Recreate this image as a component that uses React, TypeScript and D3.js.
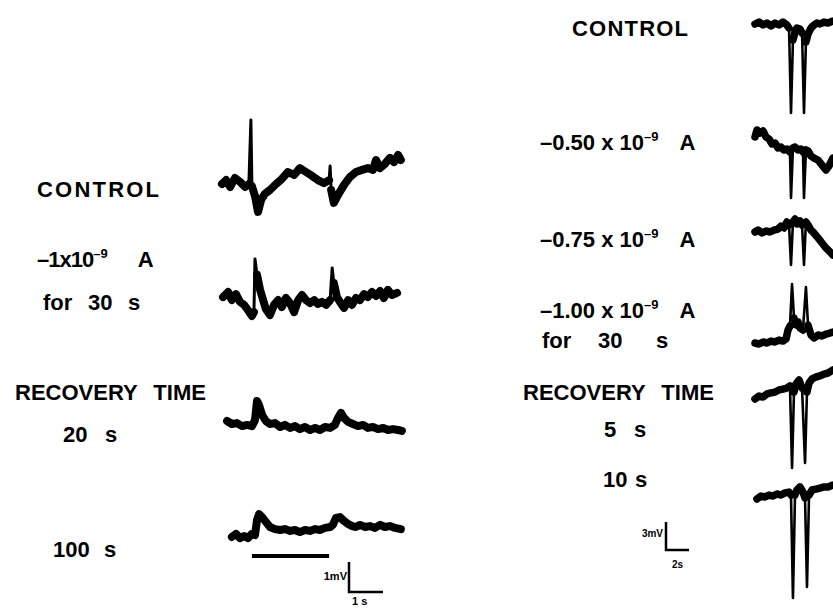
import * as d3 from "d3";

type Pt = [number, number, number?]; // [time (s), potential (mV), spike tip flag]

// Left experiment: 1 s / 1 mV calibration
const leftControl: Pt[] = [
  [0.0, 0.0], [0.12, 0.13], [0.24, -0.1], [0.38, 0.2], [0.53, 0.07], [0.68, -0.1],
  [0.79, 0.0], [0.85, 2.13, 1], [0.88, -0.07], [0.97, -0.4], [1.06, -0.93], [1.15, -0.53],
  [1.26, -0.33], [1.41, -0.2], [1.59, 0.0], [1.76, 0.17], [1.94, 0.4], [2.12, 0.3],
  [2.29, 0.53], [2.47, 0.4], [2.65, 0.27], [2.82, 0.13], [3.0, 0.03], [3.15, 0.13],
  [3.18, 0.6, 1], [3.21, -0.2], [3.29, -0.63], [3.41, -0.37], [3.59, -0.03], [3.76, 0.23],
  [3.94, 0.4], [4.12, 0.47], [4.29, 0.53], [4.44, 0.47], [4.53, 0.8], [4.65, 0.53],
  [4.79, 0.67], [4.94, 0.87], [5.06, 0.73], [5.18, 0.97], [5.26, 0.8],
];
const leftCurrent: Pt[] = [
  [0.03, 0.03], [0.18, 0.2], [0.29, -0.07], [0.41, 0.13], [0.53, -0.13], [0.65, -0.23],
  [0.76, -0.4], [0.88, -0.6], [0.94, -0.47], [0.97, 1.3, 1], [1.03, 0.77], [1.12, 0.27],
  [1.21, -0.07], [1.29, -0.37], [1.41, -0.57], [1.53, -0.23], [1.65, -0.07], [1.76, -0.3],
  [1.88, 0.0], [2.0, -0.17], [2.12, -0.47], [2.24, -0.07], [2.35, 0.1], [2.47, -0.07],
  [2.59, -0.17], [2.71, -0.07], [2.82, -0.2], [2.94, -0.13], [3.06, -0.23], [3.18, -0.07],
  [3.24, 1.0, 1], [3.29, 0.5], [3.38, 0.03], [3.47, -0.13], [3.59, -0.33], [3.71, -0.07],
  [3.82, -0.23], [3.94, 0.0], [4.06, -0.07], [4.18, 0.13], [4.29, 0.03], [4.41, 0.2],
  [4.53, 0.07], [4.65, 0.23], [4.76, 0.0], [4.88, 0.27], [5.0, 0.1], [5.15, 0.17],
];
const leftRecovery20: Pt[] = [
  [0.15, 0.1], [0.29, 0.0], [0.44, 0.03], [0.59, -0.07], [0.74, -0.03], [0.88, -0.07],
  [0.97, 0.13], [1.03, 0.77], [1.09, 0.63], [1.18, 0.3], [1.29, 0.1], [1.41, 0.0],
  [1.56, 0.03], [1.71, -0.1], [1.85, -0.03], [2.0, -0.13], [2.15, -0.07], [2.29, -0.17],
  [2.44, -0.1], [2.59, -0.2], [2.74, -0.13], [2.88, -0.2], [3.03, -0.1], [3.18, -0.13],
  [3.32, -0.03], [3.41, 0.2], [3.5, 0.37], [3.59, 0.2], [3.71, 0.07], [3.85, 0.0],
  [4.0, -0.07], [4.15, -0.03], [4.29, -0.13], [4.44, -0.1], [4.59, -0.17], [4.74, -0.13],
  [4.88, -0.2], [5.03, -0.17], [5.18, -0.2], [5.29, -0.23],
];
const leftRecovery100: Pt[] = [
  [0.29, -0.03], [0.41, 0.07], [0.53, -0.07], [0.65, 0.0], [0.76, -0.07], [0.88, 0.07],
  [0.97, 0.03], [1.03, 0.53], [1.09, 0.73], [1.18, 0.63], [1.29, 0.47], [1.41, 0.3],
  [1.56, 0.23], [1.71, 0.2], [1.85, 0.23], [2.0, 0.17], [2.15, 0.2], [2.29, 0.13],
  [2.44, 0.2], [2.59, 0.17], [2.74, 0.23], [2.88, 0.2], [3.03, 0.27], [3.18, 0.3],
  [3.26, 0.37], [3.35, 0.6], [3.47, 0.63], [3.59, 0.5], [3.71, 0.4], [3.82, 0.33],
  [3.94, 0.3], [4.06, 0.37], [4.21, 0.3], [4.35, 0.33], [4.5, 0.27], [4.65, 0.37],
  [4.79, 0.3], [4.94, 0.33], [5.09, 0.27], [5.26, 0.23],
];
const leftStimulus = [0.88, 3.15]; // s
const leftCalibration = { mV: 1, s: 1 };

// Right experiment: 2 s / 3 mV calibration
const rightControl: Pt[] = [
  [0.0, 0.0], [0.35, 0.21], [0.7, -0.11], [1.04, 0.11], [1.39, -0.21], [1.74, 0.11],
  [2.09, -0.11], [2.43, 0.21], [2.78, -0.11], [2.96, -0.43], [3.13, -9.54, 1], [3.3, -1.71],
  [3.48, -0.86], [3.65, -0.43], [3.91, -0.54], [4.09, -0.96], [4.26, -9.54, 1], [4.43, -1.93],
  [4.61, -1.07], [4.87, -0.43], [5.13, -0.11], [5.39, 0.11], [5.65, 0.0], [6.0, 0.21],
  [6.35, 0.11], [6.78, 0.32],
];
const rightCurrent050: Pt[] = [
  [0.0, -0.21], [0.17, 0.54], [0.43, 0.21], [0.7, 0.43], [0.96, -0.21], [1.22, -0.43],
  [1.48, -0.96], [1.74, -0.86], [2.0, -1.39], [2.26, -1.29], [2.52, -1.61], [2.78, -1.5],
  [3.04, -1.82], [3.13, -6.75, 1], [3.3, -1.39], [3.48, -1.29], [3.74, -1.61], [4.0, -1.5],
  [4.17, -1.82], [4.26, -6.75, 1], [4.43, -1.61], [4.61, -1.71], [4.87, -2.25], [5.13, -2.47],
  [5.48, -2.68], [5.83, -3.22], [6.17, -3.75], [6.43, -3.32], [6.78, -2.47],
];
const rightCurrent075: Pt[] = [
  [0.0, 0.0], [0.26, 0.21], [0.61, -0.11], [0.96, 0.11], [1.3, 0.0], [1.65, 0.21],
  [2.0, 0.32], [2.26, 0.64], [2.52, 0.43], [2.78, 1.07], [2.96, 0.75], [3.13, -3.54, 1],
  [3.3, 1.07], [3.48, 1.39], [3.65, 0.86], [3.91, 1.18], [4.09, 0.75], [4.26, -3.54, 1],
  [4.43, 1.07], [4.61, 0.75], [4.87, 0.21], [5.13, -0.11], [5.48, -0.64], [5.83, -1.18],
  [6.17, -1.71], [6.52, -2.14], [6.78, -2.47],
];
const rightCurrent100: Pt[] = [
  [0.0, 0.0], [0.35, -0.11], [0.7, 0.11], [1.04, 0.0], [1.39, 0.21], [1.74, 0.11],
  [2.09, 0.32], [2.43, 0.21], [2.7, 0.43], [2.87, 1.39], [3.04, 1.82], [3.22, 6.32, 1],
  [3.39, 2.68], [3.57, 1.93], [3.74, 2.25], [3.91, 1.61], [4.17, 1.39], [4.43, 6.0, 1],
  [4.61, 1.93], [4.87, 0.86], [5.13, 0.54], [5.48, 0.86], [5.83, 0.75], [6.17, 0.96],
  [6.52, 1.07], [6.78, 1.18],
];
const rightRecovery5: Pt[] = [
  [0.0, -0.11], [0.35, 0.21], [0.7, 0.11], [1.04, 0.43], [1.39, 0.54], [1.74, 0.64],
  [2.09, 0.86], [2.43, 0.96], [2.78, 1.07], [3.04, 1.29], [3.22, -7.5, 1], [3.39, 0.64],
  [3.57, 1.5], [3.83, 1.93], [4.09, 1.07], [4.35, -6.97, 1], [4.52, 0.64], [4.7, 1.61],
  [4.96, 2.04], [5.3, 2.25], [5.65, 2.36], [6.0, 2.57], [6.35, 2.68], [6.78, 3.0],
];
const rightRecovery10: Pt[] = [
  [0.17, -0.11], [0.52, 0.21], [0.87, 0.11], [1.22, 0.32], [1.57, 0.21], [1.91, 0.43],
  [2.26, 0.32], [2.61, 0.54], [2.96, 0.64], [3.13, 0.32], [3.3, -10.72, 1], [3.48, 0.32],
  [3.65, 0.86], [3.91, 1.18], [4.17, 0.64], [4.35, 0.0], [4.52, -9.54, 1], [4.7, 0.32],
  [4.96, 0.86], [5.3, 0.96], [5.65, 1.07], [6.0, 1.18], [6.35, 1.18], [6.78, 1.39],
];
const rightCalibration = { mV: 3, s: 2 };

const FONT = "'Liberation Sans', Arial, sans-serif";
const INK = "#000";

// time scales (px per second from the calibration bars)
const leftX = d3.scaleLinear().domain([0, 1]).range([222, 256]);
const rightX = d3.scaleLinear().domain([0, 1]).range([755, 766.5]);
const leftY = (zero: number) => d3.scaleLinear().domain([0, 1]).range([zero, zero - 30]);
const rightY = (zero: number) => d3.scaleLinear().domain([0, 1]).range([zero, zero - 9.33]);

function Trace({
  data,
  x,
  y,
  thick,
  thin,
}: {
  data: Pt[];
  x: d3.ScaleLinear<number, number>;
  y: d3.ScaleLinear<number, number>;
  thick: number;
  thin: number;
}) {
  const line = d3
    .line<Pt>()
    .x((d) => x(d[0]))
    .y((d) => y(d[1]));
  const body = d3
    .line<Pt>()
    .defined((d) => !d[2])
    .x((d) => x(d[0]))
    .y((d) => y(d[1]));
  return (
    <g fill="none" stroke={INK} strokeLinejoin="round" strokeLinecap="round">
      <path d={line(data) ?? ""} strokeWidth={thin} />
      <path d={body(data) ?? ""} strokeWidth={thick} />
    </g>
  );
}

function Amp({ x, y, head }: { x: number; y: number; head: string }) {
  return (
    <text x={x} y={y}>
      {head}
      <tspan dy={-9} fontSize={13}>
        –9
      </tspan>
      <tspan dy={9} dx={21}>
        A
      </tspan>
    </text>
  );
}

export default function App() {
  const lRows = [
    { data: leftControl, zero: 184 },
    { data: leftCurrent, zero: 298 },
    { data: leftRecovery20, zero: 424 },
    { data: leftRecovery100, zero: 536 },
  ];
  const rRows = [
    { data: rightControl, zero: 24 },
    { data: rightCurrent050, zero: 135 },
    { data: rightCurrent075, zero: 232 },
    { data: rightCurrent100, zero: 343 },
    { data: rightRecovery5, zero: 398 },
    { data: rightRecovery10, zero: 498 },
  ];

  // calibration bars
  const lCalY = leftY(592);
  const lCalX = d3.scaleLinear().domain([0, 1]).range([349, 383]);
  const rCalY = rightY(550);
  const rCalX = d3.scaleLinear().domain([0, 1]).range([666, 677.5]);

  return (
    <svg
      width={833}
      height={608}
      style={{ position: "absolute", left: 0, top: 0, background: "#fff" }}
    >
      <rect width={833} height={608} fill="#fff" />
      {lRows.map((r, i) => (
        <Trace key={"l" + i} data={r.data} x={leftX} y={leftY(r.zero)} thick={8} thin={3} />
      ))}
      {rRows.map((r, i) => (
        <Trace key={"r" + i} data={r.data} x={rightX} y={rightY(r.zero)} thick={7.5} thin={2.6} />
      ))}

      {/* stimulus bar */}
      <line
        x1={leftX(leftStimulus[0])}
        x2={leftX(leftStimulus[1])}
        y1={556}
        y2={556}
        stroke={INK}
        strokeWidth={4}
      />

      {/* calibration: 1 mV / 1 s */}
      <path
        d={`M${lCalX(0)},${lCalY(leftCalibration.mV)}V${lCalY(0)}H${lCalX(leftCalibration.s)}`}
        fill="none"
        stroke={INK}
        strokeWidth={2.5}
      />
      <g fontFamily={FONT} fontWeight="bold" fill={INK}>
        <text x={347} y={580} fontSize={11} textAnchor="end">
          1mV
        </text>
        <text x={352} y={605} fontSize={11}>
          1 s
        </text>
        <text x={663} y={537} fontSize={10} textAnchor="end">
          3mV
        </text>
        <text x={672} y={568} fontSize={10}>
          2s
        </text>
      </g>

      {/* calibration: 3 mV / 2 s */}
      <path
        d={`M${rCalX(0)},${rCalY(rightCalibration.mV)}V${rCalY(0)}H${rCalX(rightCalibration.s)}`}
        fill="none"
        stroke={INK}
        strokeWidth={2.5}
      />

      <g fontFamily={FONT} fontWeight="bold" fontSize={22} fill={INK}>
        {/* left labels */}
        <text x={37} y={197} letterSpacing={2.2}>CONTROL</text>
        <text x={37} y={267} letterSpacing={-1}>
          –1x10
          <tspan dy={-9} fontSize={13} letterSpacing={0}>
            –9
          </tspan>
          <tspan dy={9} dx={30} letterSpacing={0}>
            A
          </tspan>
        </text>
        <text y={310}>
          <tspan x={43}>for</tspan>
          <tspan x={88}>30</tspan>
          <tspan x={128}>s</tspan>
        </text>
        <text x={15} y={400} wordSpacing={10}>
          RECOVERY TIME
        </text>
        <text y={442}>
          <tspan x={63}>20</tspan>
          <tspan x={105}>s</tspan>
        </text>
        <text y={557}>
          <tspan x={53}>100</tspan>
          <tspan x={104}>s</tspan>
        </text>

        {/* right labels */}
        <text x={572} y={36} letterSpacing={1.2}>CONTROL</text>
        <Amp x={540} y={150} head="–0.50 x 10" />
        <Amp x={540} y={247} head="–0.75 x 10" />
        <Amp x={540} y={318} head="–1.00 x 10" />
        <text y={348}>
          <tspan x={542}>for</tspan>
          <tspan x={598}>30</tspan>
          <tspan x={656}>s</tspan>
        </text>
        <text x={523} y={400} wordSpacing={10}>
          RECOVERY TIME
        </text>
        <text y={437}>
          <tspan x={604}>5</tspan>
          <tspan x={634}>s</tspan>
        </text>
        <text y={487}>
          <tspan x={603}>10</tspan>
          <tspan x={635}>s</tspan>
        </text>
      </g>
    </svg>
  );
}
